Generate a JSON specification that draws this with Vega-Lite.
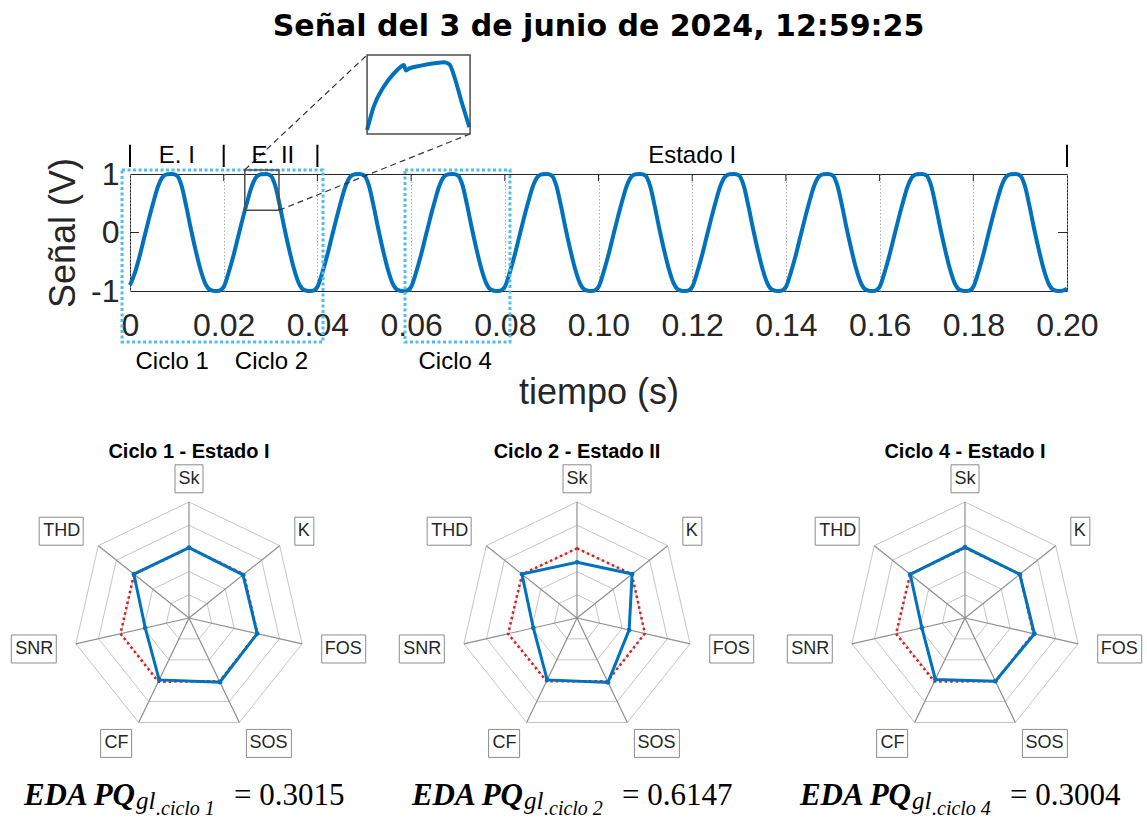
{
"$schema": "https://vega.github.io/schema/vega-lite/v6.json",
"background": "white",
"padding": {"left": 9, "top": 11, "right": 0, "bottom": 0},
"bounds": "flush",
"spacing": 268,
"datasets": {
"sig": [
{"t":0,"v":-0.9},{"t":0.001,"v":-0.7},{"t":0.002,"v":-0.42},{"t":0.003,"v":-0.1},{"t":0.004,"v":0.22},{"t":0.005,"v":0.52},{"t":0.006,"v":0.79},{"t":0.007,"v":0.95},{"t":0.008,"v":0.995},{"t":0.009,"v":1},{"t":0.01,"v":0.975},{"t":0.011,"v":0.8},{"t":0.012,"v":0.45},{"t":0.013,"v":0.06},{"t":0.014,"v":-0.3},{"t":0.015,"v":-0.62},{"t":0.016,"v":-0.86},{"t":0.017,"v":-0.975},{"t":0.018,"v":-1},{"t":0.019,"v":-0.995},
{"t":0.02,"v":-0.93},{"t":0.021,"v":-0.7},{"t":0.022,"v":-0.42},{"t":0.023,"v":-0.1},{"t":0.024,"v":0.22},{"t":0.025,"v":0.52},{"t":0.026,"v":0.79},{"t":0.027,"v":0.95},{"t":0.028,"v":0.995},{"t":0.029,"v":1},{"t":0.03,"v":0.975},{"t":0.031,"v":0.8},{"t":0.032,"v":0.45},{"t":0.033,"v":0.06},{"t":0.034,"v":-0.3},{"t":0.035,"v":-0.62},{"t":0.036,"v":-0.86},{"t":0.037,"v":-0.975},{"t":0.038,"v":-1},{"t":0.039,"v":-0.995},
{"t":0.04,"v":-0.93},{"t":0.041,"v":-0.7},{"t":0.042,"v":-0.42},{"t":0.043,"v":-0.1},{"t":0.044,"v":0.22},{"t":0.045,"v":0.52},{"t":0.046,"v":0.79},{"t":0.047,"v":0.95},{"t":0.048,"v":0.995},{"t":0.049,"v":1},{"t":0.05,"v":0.975},{"t":0.051,"v":0.8},{"t":0.052,"v":0.45},{"t":0.053,"v":0.06},{"t":0.054,"v":-0.3},{"t":0.055,"v":-0.62},{"t":0.056,"v":-0.86},{"t":0.057,"v":-0.975},{"t":0.058,"v":-1},{"t":0.059,"v":-0.995},
{"t":0.06,"v":-0.93},{"t":0.061,"v":-0.7},{"t":0.062,"v":-0.42},{"t":0.063,"v":-0.1},{"t":0.064,"v":0.22},{"t":0.065,"v":0.52},{"t":0.066,"v":0.79},{"t":0.067,"v":0.95},{"t":0.068,"v":0.995},{"t":0.069,"v":1},{"t":0.07,"v":0.975},{"t":0.071,"v":0.8},{"t":0.072,"v":0.45},{"t":0.073,"v":0.06},{"t":0.074,"v":-0.3},{"t":0.075,"v":-0.62},{"t":0.076,"v":-0.86},{"t":0.077,"v":-0.975},{"t":0.078,"v":-1},{"t":0.079,"v":-0.995},
{"t":0.08,"v":-0.93},{"t":0.081,"v":-0.7},{"t":0.082,"v":-0.42},{"t":0.083,"v":-0.1},{"t":0.084,"v":0.22},{"t":0.085,"v":0.52},{"t":0.086,"v":0.79},{"t":0.087,"v":0.95},{"t":0.088,"v":0.995},{"t":0.089,"v":1},{"t":0.09,"v":0.975},{"t":0.091,"v":0.8},{"t":0.092,"v":0.45},{"t":0.093,"v":0.06},{"t":0.094,"v":-0.3},{"t":0.095,"v":-0.62},{"t":0.096,"v":-0.86},{"t":0.097,"v":-0.975},{"t":0.098,"v":-1},{"t":0.099,"v":-0.995},
{"t":0.1,"v":-0.93},{"t":0.101,"v":-0.7},{"t":0.102,"v":-0.42},{"t":0.103,"v":-0.1},{"t":0.104,"v":0.22},{"t":0.105,"v":0.52},{"t":0.106,"v":0.79},{"t":0.107,"v":0.95},{"t":0.108,"v":0.995},{"t":0.109,"v":1},{"t":0.11,"v":0.975},{"t":0.111,"v":0.8},{"t":0.112,"v":0.45},{"t":0.113,"v":0.06},{"t":0.114,"v":-0.3},{"t":0.115,"v":-0.62},{"t":0.116,"v":-0.86},{"t":0.117,"v":-0.975},{"t":0.118,"v":-1},{"t":0.119,"v":-0.995},
{"t":0.12,"v":-0.93},{"t":0.121,"v":-0.7},{"t":0.122,"v":-0.42},{"t":0.123,"v":-0.1},{"t":0.124,"v":0.22},{"t":0.125,"v":0.52},{"t":0.126,"v":0.79},{"t":0.127,"v":0.95},{"t":0.128,"v":0.995},{"t":0.129,"v":1},{"t":0.13,"v":0.975},{"t":0.131,"v":0.8},{"t":0.132,"v":0.45},{"t":0.133,"v":0.06},{"t":0.134,"v":-0.3},{"t":0.135,"v":-0.62},{"t":0.136,"v":-0.86},{"t":0.137,"v":-0.975},{"t":0.138,"v":-1},{"t":0.139,"v":-0.995},
{"t":0.14,"v":-0.93},{"t":0.141,"v":-0.7},{"t":0.142,"v":-0.42},{"t":0.143,"v":-0.1},{"t":0.144,"v":0.22},{"t":0.145,"v":0.52},{"t":0.146,"v":0.79},{"t":0.147,"v":0.95},{"t":0.148,"v":0.995},{"t":0.149,"v":1},{"t":0.15,"v":0.975},{"t":0.151,"v":0.8},{"t":0.152,"v":0.45},{"t":0.153,"v":0.06},{"t":0.154,"v":-0.3},{"t":0.155,"v":-0.62},{"t":0.156,"v":-0.86},{"t":0.157,"v":-0.975},{"t":0.158,"v":-1},{"t":0.159,"v":-0.995},
{"t":0.16,"v":-0.93},{"t":0.161,"v":-0.7},{"t":0.162,"v":-0.42},{"t":0.163,"v":-0.1},{"t":0.164,"v":0.22},{"t":0.165,"v":0.52},{"t":0.166,"v":0.79},{"t":0.167,"v":0.95},{"t":0.168,"v":0.995},{"t":0.169,"v":1},{"t":0.17,"v":0.975},{"t":0.171,"v":0.8},{"t":0.172,"v":0.45},{"t":0.173,"v":0.06},{"t":0.174,"v":-0.3},{"t":0.175,"v":-0.62},{"t":0.176,"v":-0.86},{"t":0.177,"v":-0.975},{"t":0.178,"v":-1},{"t":0.179,"v":-0.995},
{"t":0.18,"v":-0.93},{"t":0.181,"v":-0.7},{"t":0.182,"v":-0.42},{"t":0.183,"v":-0.1},{"t":0.184,"v":0.22},{"t":0.185,"v":0.52},{"t":0.186,"v":0.79},{"t":0.187,"v":0.95},{"t":0.188,"v":0.995},{"t":0.189,"v":1},{"t":0.19,"v":0.975},{"t":0.191,"v":0.8},{"t":0.192,"v":0.45},{"t":0.193,"v":0.06},{"t":0.194,"v":-0.3},{"t":0.195,"v":-0.62},{"t":0.196,"v":-0.86},{"t":0.197,"v":-0.975},{"t":0.198,"v":-1},{"t":0.199,"v":-0.995},
{"t":0.2,"v":-0.96}
],
"inset": [
{"t":0.0245,"v":0.415},{"t":0.02497,"v":0.62},{"t":0.02568,"v":0.793},{"t":0.0264,"v":0.91},{"t":0.02686,"v":0.965},{"t":0.0271,"v":0.983},{"t":0.02726,"v":0.935},{"t":0.0275,"v":0.954},{"t":0.02833,"v":0.978},{"t":0.02927,"v":0.998},{"t":0.02998,"v":1.008},{"t":0.03033,"v":0.99},{"t":0.03069,"v":0.88},{"t":0.03116,"v":0.677},{"t":0.03175,"v":0.44}
],
"boxes": [{"t":-0.0017,"t2":0.0412,"v":-1.872,"v2":1.07},{"t":0.0587,"t2":0.0811,"v":-1.872,"v2":1.07}],
"zoombox": [{"t":0.0245,"t2":0.0318,"v":0.38,"v2":1.07}],
"links": [{"t":0.0245,"v":1.07,"t2":0.05059,"v2":3.034},{"t":0.0318,"v":0.38,"t2":0.07257,"v2":1.684}],
"bars": [{"t":0,"v":1.12,"v2":1.5},{"t":0.02,"v":1.12,"v2":1.5},{"t":0.04,"v":1.12,"v2":1.5},{"t":0.2,"v":1.12,"v2":1.5}],
"topticks": [{"t":0.02,"v":1,"v2":0.88},{"t":0.04,"v":1,"v2":0.88},{"t":0.06,"v":1,"v2":0.88},{"t":0.08,"v":1,"v2":0.88},{"t":0.1,"v":1,"v2":0.88},{"t":0.12,"v":1,"v2":0.88},{"t":0.14,"v":1,"v2":0.88},{"t":0.16,"v":1,"v2":0.88},{"t":0.18,"v":1,"v2":0.88}],
"yticks": [{"t":0,"t2":0.0019,"v":0},{"t":0.1981,"t2":0.2,"v":0}],
"states": [{"t":0.01,"v":1.188,"label":"E. I"},{"t":0.0305,"v":1.188,"label":"E. II"},{"t":0.12,"v":1.188,"label":"Estado I"}],
"cycles": [{"t":0.009,"v":-2.33,"label":"Ciclo 1"},{"t":0.0302,"v":-2.33,"label":"Ciclo 2"},{"t":0.0694,"v":-2.33,"label":"Ciclo 4"}],
"maintitle": [{"t":0.1,"v":3.359,"label":"Señal del 3 de junio de 2024, 12:59:25"}],
"axes": [{"axis":"Sk","idx":0},{"axis":"K","idx":1},{"axis":"FOS","idx":2},{"axis":"SOS","idx":3},{"axis":"CF","idx":4},{"axis":"SNR","idx":5},{"axis":"THD","idx":6}],
"rings": [
{"ring":0.2,"idx":0},{"ring":0.2,"idx":1},{"ring":0.2,"idx":2},{"ring":0.2,"idx":3},{"ring":0.2,"idx":4},{"ring":0.2,"idx":5},{"ring":0.2,"idx":6},
{"ring":0.4,"idx":0},{"ring":0.4,"idx":1},{"ring":0.4,"idx":2},{"ring":0.4,"idx":3},{"ring":0.4,"idx":4},{"ring":0.4,"idx":5},{"ring":0.4,"idx":6},
{"ring":0.6,"idx":0},{"ring":0.6,"idx":1},{"ring":0.6,"idx":2},{"ring":0.6,"idx":3},{"ring":0.6,"idx":4},{"ring":0.6,"idx":5},{"ring":0.6,"idx":6},
{"ring":0.8,"idx":0},{"ring":0.8,"idx":1},{"ring":0.8,"idx":2},{"ring":0.8,"idx":3},{"ring":0.8,"idx":4},{"ring":0.8,"idx":5},{"ring":0.8,"idx":6},
{"ring":1,"idx":0},{"ring":1,"idx":1},{"ring":1,"idx":2},{"ring":1,"idx":3},{"ring":1,"idx":4},{"ring":1,"idx":5},{"ring":1,"idx":6}
],
"radar": [
{"panel":1,"series":"medido","axis":"Sk","idx":0,"value":0.606},{"panel":1,"series":"medido","axis":"K","idx":1,"value":0.596},{"panel":1,"series":"medido","axis":"FOS","idx":2,"value":0.603},{"panel":1,"series":"medido","axis":"SOS","idx":3,"value":0.614},{"panel":1,"series":"medido","axis":"CF","idx":4,"value":0.592},{"panel":1,"series":"medido","axis":"SNR","idx":5,"value":0.387},{"panel":1,"series":"medido","axis":"THD","idx":6,"value":0.608},
{"panel":1,"series":"referencia","axis":"Sk","idx":0,"value":0.605},{"panel":1,"series":"referencia","axis":"K","idx":1,"value":0.605},{"panel":1,"series":"referencia","axis":"FOS","idx":2,"value":0.605},{"panel":1,"series":"referencia","axis":"SOS","idx":3,"value":0.605},{"panel":1,"series":"referencia","axis":"CF","idx":4,"value":0.61},{"panel":1,"series":"referencia","axis":"SNR","idx":5,"value":0.606},{"panel":1,"series":"referencia","axis":"THD","idx":6,"value":0.606},
{"panel":2,"series":"medido","axis":"Sk","idx":0,"value":0.48},{"panel":2,"series":"medido","axis":"K","idx":1,"value":0.608},{"panel":2,"series":"medido","axis":"FOS","idx":2,"value":0.461},{"panel":2,"series":"medido","axis":"SOS","idx":3,"value":0.616},{"panel":2,"series":"medido","axis":"CF","idx":4,"value":0.592},{"panel":2,"series":"medido","axis":"SNR","idx":5,"value":0.386},{"panel":2,"series":"medido","axis":"THD","idx":6,"value":0.607},
{"panel":2,"series":"referencia","axis":"Sk","idx":0,"value":0.6},{"panel":2,"series":"referencia","axis":"K","idx":1,"value":0.605},{"panel":2,"series":"referencia","axis":"FOS","idx":2,"value":0.6},{"panel":2,"series":"referencia","axis":"SOS","idx":3,"value":0.605},{"panel":2,"series":"referencia","axis":"CF","idx":4,"value":0.605},{"panel":2,"series":"referencia","axis":"SNR","idx":5,"value":0.61},{"panel":2,"series":"referencia","axis":"THD","idx":6,"value":0.605},
{"panel":3,"series":"medido","axis":"Sk","idx":0,"value":0.611},{"panel":3,"series":"medido","axis":"K","idx":1,"value":0.604},{"panel":3,"series":"medido","axis":"FOS","idx":2,"value":0.614},{"panel":3,"series":"medido","axis":"SOS","idx":3,"value":0.604},{"panel":3,"series":"medido","axis":"CF","idx":4,"value":0.588},{"panel":3,"series":"medido","axis":"SNR","idx":5,"value":0.381},{"panel":3,"series":"medido","axis":"THD","idx":6,"value":0.604},
{"panel":3,"series":"referencia","axis":"Sk","idx":0,"value":0.605},{"panel":3,"series":"referencia","axis":"K","idx":1,"value":0.605},{"panel":3,"series":"referencia","axis":"FOS","idx":2,"value":0.605},{"panel":3,"series":"referencia","axis":"SOS","idx":3,"value":0.605},{"panel":3,"series":"referencia","axis":"CF","idx":4,"value":0.608},{"panel":3,"series":"referencia","axis":"SNR","idx":5,"value":0.61},{"panel":3,"series":"referencia","axis":"THD","idx":6,"value":0.605}
],
"panels": [
{"panel":1,"heading":"Ciclo 1 - Estado I","eda":"EDA PQ","gl":"gl","sub":".ciclo 1","val":"= 0.3015"},
{"panel":2,"heading":"Ciclo 2 - Estado II","eda":"EDA PQ","gl":"gl","sub":".ciclo 2","val":"= 0.6147"},
{"panel":3,"heading":"Ciclo 4 - Estado I","eda":"EDA PQ","gl":"gl","sub":".ciclo 4","val":"= 0.3004"}
]
},
"vconcat": [
{
"width": 937, "height": 117,
"resolve": {"scale": {"x": "independent", "y": "independent"}},
"layer": [
{
"layer": [
{"data": {"name": "sig"},
 "mark": {"type": "line", "color": "#0072BD", "strokeWidth": 4, "interpolate": "monotone"},
 "encoding": {
  "x": {"field": "t", "type": "quantitative", "scale": {"domain": [0, 0.2], "nice": false, "zero": false},
   "axis": {"title": "tiempo (s)", "values": [0,0.02,0.04,0.06,0.08,0.1,0.12,0.14,0.16,0.18,0.2],
    "labelExpr": "datum.value == 0 ? '0' : format(datum.value, '.2f')",
    "grid": true, "gridDash": [1.5, 2], "gridColor": "#9a9a9a", "gridWidth": 0.8,
    "ticks": false, "domain": false, "labelFont": "Liberation Sans", "labelFontSize": 32, "labelColor": "#262626",
    "labelPadding": 19, "labelFlush": false, "labelOverlap": false,
    "titleFont": "Liberation Sans", "titleFontSize": 36, "titleFontWeight": "normal", "titleColor": "#262626", "titlePadding": 34}},
  "y": {"field": "v", "type": "quantitative", "scale": {"domain": [-1, 1], "nice": false, "zero": false},
   "axis": {"title": "Señal (V)", "values": [-1, 0, 1],
    "labelExpr": "datum.value == -1 ? '-1' : (datum.value == 0 ? '0' : '1')",
    "grid": false, "ticks": false, "domain": false,
    "labelFont": "Liberation Sans", "labelFontSize": 32, "labelColor": "#262626", "labelPadding": 11,
    "titleFont": "Liberation Sans", "titleFontSize": 36, "titleFontWeight": "normal", "titleColor": "#262626", "titlePadding": 8}}
 }},
{"data": {"name": "topticks"},
 "mark": {"type": "rule", "color": "#262626", "strokeWidth": 1},
 "encoding": {"x": {"field": "t", "type": "quantitative"}, "y": {"field": "v", "type": "quantitative"}, "y2": {"field": "v2"}}},
{"data": {"name": "yticks"},
 "mark": {"type": "rule", "color": "#262626", "strokeWidth": 1},
 "encoding": {"x": {"field": "t", "type": "quantitative"}, "x2": {"field": "t2"}, "y": {"field": "v", "type": "quantitative"}}},
{"data": {"name": "boxes"},
 "mark": {"type": "rect", "filled": false, "stroke": "#4DBEEE", "strokeWidth": 3, "strokeDash": [3, 2.5]},
 "encoding": {"x": {"field": "t", "type": "quantitative"}, "x2": {"field": "t2"}, "y": {"field": "v", "type": "quantitative"}, "y2": {"field": "v2"}}},
{"data": {"name": "zoombox"},
 "mark": {"type": "rect", "filled": false, "stroke": "#4d4d4d", "strokeWidth": 1.5},
 "encoding": {"x": {"field": "t", "type": "quantitative"}, "x2": {"field": "t2"}, "y": {"field": "v", "type": "quantitative"}, "y2": {"field": "v2"}}},
{"data": {"name": "links"},
 "mark": {"type": "rule", "color": "#333333", "strokeWidth": 1.2, "strokeDash": [6, 4]},
 "encoding": {"x": {"field": "t", "type": "quantitative"}, "x2": {"field": "t2"}, "y": {"field": "v", "type": "quantitative"}, "y2": {"field": "v2"}}},
{"data": {"name": "bars"},
 "mark": {"type": "rule", "color": "#000000", "strokeWidth": 2},
 "encoding": {"x": {"field": "t", "type": "quantitative"}, "y": {"field": "v", "type": "quantitative"}, "y2": {"field": "v2"}}},
{"data": {"name": "states"},
 "mark": {"type": "text", "align": "center", "baseline": "alphabetic", "fontSize": 24, "color": "#000000", "font": "Liberation Sans"},
 "encoding": {"x": {"field": "t", "type": "quantitative"}, "y": {"field": "v", "type": "quantitative"}, "text": {"field": "label"}}},
{"data": {"name": "cycles"},
 "mark": {"type": "text", "align": "center", "baseline": "alphabetic", "fontSize": 24, "color": "#000000", "font": "Liberation Sans"},
 "encoding": {"x": {"field": "t", "type": "quantitative"}, "y": {"field": "v", "type": "quantitative"}, "text": {"field": "label"}}},
{"data": {"name": "maintitle"},
 "mark": {"type": "text", "align": "center", "baseline": "alphabetic", "fontSize": 30, "fontWeight": "bold", "color": "#000000", "font": "DejaVu Sans"},
 "encoding": {"x": {"field": "t", "type": "quantitative"}, "y": {"field": "v", "type": "quantitative"}, "text": {"field": "label"}}}
]
},
{
"layer": [
{"data": {"name": "inset"},
 "mark": {"type": "line", "color": "#0072BD", "strokeWidth": 4, "interpolate": "monotone"},
 "encoding": {
  "x": {"field": "t", "type": "quantitative", "scale": {"domain": [0.0077, 0.0741], "nice": false, "zero": false}, "axis": null},
  "y": {"field": "v", "type": "quantitative", "scale": {"domain": [-0.991, 0.031], "nice": false, "zero": false}, "axis": null}}},
{"data": {"name": "zoombox"},
 "mark": {"type": "rect", "filled": false, "stroke": "#4d4d4d", "strokeWidth": 1.5},
 "encoding": {"x": {"field": "t", "type": "quantitative", "axis": null}, "x2": {"field": "t2"}, "y": {"field": "v", "type": "quantitative", "axis": null}, "y2": {"field": "v2"}}}
]
}
]
},
{
"hconcat": [
{
"width": 118, "height": 118, "view": {"stroke": null},
"encoding": {
 "x": {"field": "rx", "type": "quantitative", "scale": {"domain": [-0.5086, 0.5086], "nice": false, "zero": false}, "axis": null},
 "y": {"field": "ry", "type": "quantitative", "scale": {"domain": [-0.5086, 0.5086], "nice": false, "zero": false}, "axis": null}},
"layer": [
{"data": {"name": "rings"}, "transform": [{"calculate": "datum.ring*sin(datum.idx*2*PI/7)", "as": "rx"}, {"calculate": "datum.ring*cos(datum.idx*2*PI/7)", "as": "ry"}],
 "mark": {"type": "line", "interpolate": "linear-closed", "color": "#c6c6c6", "strokeWidth": 1}, "encoding": {"detail": {"field": "ring"}, "order": {"field": "idx"}}},
{"data": {"name": "axes"}, "transform": [{"calculate": "sin(datum.idx*2*PI/7)", "as": "rx"}, {"calculate": "cos(datum.idx*2*PI/7)", "as": "ry"}],
 "mark": {"type": "rule", "color": "#8f8f8f", "strokeWidth": 1.2}, "encoding": {"x": {"datum": 0}, "y": {"datum": 0}, "x2": {"field": "rx"}, "y2": {"field": "ry"}}},
{"data": {"name": "radar"}, "transform": [{"filter": "datum.panel == 1 && datum.series == 'referencia'"}, {"calculate": "datum.value*sin(datum.idx*2*PI/7)", "as": "rx"}, {"calculate": "datum.value*cos(datum.idx*2*PI/7)", "as": "ry"}],
 "mark": {"type": "line", "interpolate": "linear-closed", "color": "#d62020", "strokeWidth": 2.5, "strokeDash": [2.5, 3]}, "encoding": {"order": {"field": "idx"}}},
{"data": {"name": "radar"}, "transform": [{"filter": "datum.panel == 1 && datum.series == 'medido'"}, {"calculate": "datum.value*sin(datum.idx*2*PI/7)", "as": "rx"}, {"calculate": "datum.value*cos(datum.idx*2*PI/7)", "as": "ry"}],
 "mark": {"type": "line", "interpolate": "linear-closed", "color": "#0072BD", "strokeWidth": 3}, "encoding": {"order": {"field": "idx"}}},
{"data": {"name": "radar"}, "transform": [{"filter": "datum.panel == 1 && datum.series == 'medido'"}, {"calculate": "datum.value*sin(datum.idx*2*PI/7)", "as": "rx"}, {"calculate": "datum.value*cos(datum.idx*2*PI/7)", "as": "ry"}],
 "mark": {"type": "point", "filled": true, "color": "#0072BD", "size": 22, "opacity": 1}},
{"data": {"name": "axes"}, "transform": [{"calculate": "1.2*sin(datum.idx*2*PI/7)", "as": "rx"}, {"calculate": "1.2*cos(datum.idx*2*PI/7)", "as": "ry"}],
 "mark": {"type": "point", "filled": true, "fill": "white", "stroke": "#8c8c8c", "strokeWidth": 1, "size": 4, "opacity": 1},
 "encoding": {"shape": {"field": "axis", "type": "nominal", "legend": null, "scale": {"domain": ["Sk","K","FOS","SOS","CF","SNR","THD"], "range": ["M-14,-14H14V14H-14Z","M-3,-14H16V14H-3Z","M-3,-14H41V14H-3Z","M-3,-14H42V14H-3Z","M-28,-14H3V14H-28Z","M-42,-14H3V14H-42Z","M-41,-14H3V14H-41Z"]}}}},
{"data": {"name": "axes"}, "transform": [{"filter": "datum.idx == 0"}, {"calculate": "1.2*sin(datum.idx*2*PI/7)", "as": "rx"}, {"calculate": "1.2*cos(datum.idx*2*PI/7)", "as": "ry"}],
 "mark": {"type": "text", "align": "center", "baseline": "middle", "fontSize": 18, "color": "#262626"}, "encoding": {"text": {"field": "axis"}}},
{"data": {"name": "axes"}, "transform": [{"filter": "datum.idx >= 1 && datum.idx <= 3"}, {"calculate": "1.2*sin(datum.idx*2*PI/7)", "as": "rx"}, {"calculate": "1.2*cos(datum.idx*2*PI/7)", "as": "ry"}],
 "mark": {"type": "text", "align": "left", "baseline": "middle", "fontSize": 18, "color": "#262626"}, "encoding": {"text": {"field": "axis"}}},
{"data": {"name": "axes"}, "transform": [{"filter": "datum.idx >= 4"}, {"calculate": "1.2*sin(datum.idx*2*PI/7)", "as": "rx"}, {"calculate": "1.2*cos(datum.idx*2*PI/7)", "as": "ry"}],
 "mark": {"type": "text", "align": "right", "baseline": "middle", "fontSize": 18, "color": "#262626"}, "encoding": {"text": {"field": "axis"}}},
{"data": {"name": "panels"}, "transform": [{"filter": "datum.panel == 1"}, {"calculate": "0", "as": "rx"}, {"calculate": "1.379", "as": "ry"}],
 "mark": {"type": "text", "align": "center", "baseline": "alphabetic", "fontSize": 20, "fontWeight": "bold", "color": "#000000"},
 "encoding": {"text": {"field": "heading"}}},
{"data": {"name": "panels"}, "transform": [{"filter": "datum.panel == 1"}, {"calculate": "0", "as": "rx"}, {"calculate": "-1.612", "as": "ry"}],
 "layer": [
  {"mark": {"type": "text", "align": "right", "baseline": "alphabetic", "font": "Liberation Serif", "fontSize": 31, "fontStyle": "italic", "fontWeight": "bold", "dx": -54, "color": "#000000"}, "encoding": {"text": {"field": "eda"}}},
  {"mark": {"type": "text", "align": "left", "baseline": "alphabetic", "font": "Liberation Serif", "fontSize": 25, "fontStyle": "italic", "dx": -53, "dy": 4, "color": "#000000"}, "encoding": {"text": {"field": "gl"}}},
  {"mark": {"type": "text", "align": "left", "baseline": "alphabetic", "font": "Liberation Serif", "fontSize": 20, "fontStyle": "italic", "dx": -33, "dy": 10, "color": "#000000"}, "encoding": {"text": {"field": "sub"}}},
  {"mark": {"type": "text", "align": "left", "baseline": "alphabetic", "font": "Liberation Serif", "fontSize": 31, "dx": 45, "color": "#000000"}, "encoding": {"text": {"field": "val"}}}
 ]}
]
},
{
"width": 118, "height": 118, "view": {"stroke": null},
"encoding": {
 "x": {"field": "rx", "type": "quantitative", "scale": {"domain": [-0.5086, 0.5086], "nice": false, "zero": false}, "axis": null},
 "y": {"field": "ry", "type": "quantitative", "scale": {"domain": [-0.5086, 0.5086], "nice": false, "zero": false}, "axis": null}},
"layer": [
{"data": {"name": "rings"}, "transform": [{"calculate": "datum.ring*sin(datum.idx*2*PI/7)", "as": "rx"}, {"calculate": "datum.ring*cos(datum.idx*2*PI/7)", "as": "ry"}],
 "mark": {"type": "line", "interpolate": "linear-closed", "color": "#c6c6c6", "strokeWidth": 1}, "encoding": {"detail": {"field": "ring"}, "order": {"field": "idx"}}},
{"data": {"name": "axes"}, "transform": [{"calculate": "sin(datum.idx*2*PI/7)", "as": "rx"}, {"calculate": "cos(datum.idx*2*PI/7)", "as": "ry"}],
 "mark": {"type": "rule", "color": "#8f8f8f", "strokeWidth": 1.2}, "encoding": {"x": {"datum": 0}, "y": {"datum": 0}, "x2": {"field": "rx"}, "y2": {"field": "ry"}}},
{"data": {"name": "radar"}, "transform": [{"filter": "datum.panel == 2 && datum.series == 'referencia'"}, {"calculate": "datum.value*sin(datum.idx*2*PI/7)", "as": "rx"}, {"calculate": "datum.value*cos(datum.idx*2*PI/7)", "as": "ry"}],
 "mark": {"type": "line", "interpolate": "linear-closed", "color": "#d62020", "strokeWidth": 2.5, "strokeDash": [2.5, 3]}, "encoding": {"order": {"field": "idx"}}},
{"data": {"name": "radar"}, "transform": [{"filter": "datum.panel == 2 && datum.series == 'medido'"}, {"calculate": "datum.value*sin(datum.idx*2*PI/7)", "as": "rx"}, {"calculate": "datum.value*cos(datum.idx*2*PI/7)", "as": "ry"}],
 "mark": {"type": "line", "interpolate": "linear-closed", "color": "#0072BD", "strokeWidth": 3}, "encoding": {"order": {"field": "idx"}}},
{"data": {"name": "radar"}, "transform": [{"filter": "datum.panel == 2 && datum.series == 'medido'"}, {"calculate": "datum.value*sin(datum.idx*2*PI/7)", "as": "rx"}, {"calculate": "datum.value*cos(datum.idx*2*PI/7)", "as": "ry"}],
 "mark": {"type": "point", "filled": true, "color": "#0072BD", "size": 22, "opacity": 1}},
{"data": {"name": "axes"}, "transform": [{"calculate": "1.2*sin(datum.idx*2*PI/7)", "as": "rx"}, {"calculate": "1.2*cos(datum.idx*2*PI/7)", "as": "ry"}],
 "mark": {"type": "point", "filled": true, "fill": "white", "stroke": "#8c8c8c", "strokeWidth": 1, "size": 4, "opacity": 1},
 "encoding": {"shape": {"field": "axis", "type": "nominal", "legend": null, "scale": {"domain": ["Sk","K","FOS","SOS","CF","SNR","THD"], "range": ["M-14,-14H14V14H-14Z","M-3,-14H16V14H-3Z","M-3,-14H41V14H-3Z","M-3,-14H42V14H-3Z","M-28,-14H3V14H-28Z","M-42,-14H3V14H-42Z","M-41,-14H3V14H-41Z"]}}}},
{"data": {"name": "axes"}, "transform": [{"filter": "datum.idx == 0"}, {"calculate": "1.2*sin(datum.idx*2*PI/7)", "as": "rx"}, {"calculate": "1.2*cos(datum.idx*2*PI/7)", "as": "ry"}],
 "mark": {"type": "text", "align": "center", "baseline": "middle", "fontSize": 18, "color": "#262626"}, "encoding": {"text": {"field": "axis"}}},
{"data": {"name": "axes"}, "transform": [{"filter": "datum.idx >= 1 && datum.idx <= 3"}, {"calculate": "1.2*sin(datum.idx*2*PI/7)", "as": "rx"}, {"calculate": "1.2*cos(datum.idx*2*PI/7)", "as": "ry"}],
 "mark": {"type": "text", "align": "left", "baseline": "middle", "fontSize": 18, "color": "#262626"}, "encoding": {"text": {"field": "axis"}}},
{"data": {"name": "axes"}, "transform": [{"filter": "datum.idx >= 4"}, {"calculate": "1.2*sin(datum.idx*2*PI/7)", "as": "rx"}, {"calculate": "1.2*cos(datum.idx*2*PI/7)", "as": "ry"}],
 "mark": {"type": "text", "align": "right", "baseline": "middle", "fontSize": 18, "color": "#262626"}, "encoding": {"text": {"field": "axis"}}},
{"data": {"name": "panels"}, "transform": [{"filter": "datum.panel == 2"}, {"calculate": "0", "as": "rx"}, {"calculate": "1.379", "as": "ry"}],
 "mark": {"type": "text", "align": "center", "baseline": "alphabetic", "fontSize": 20, "fontWeight": "bold", "color": "#000000"},
 "encoding": {"text": {"field": "heading"}}},
{"data": {"name": "panels"}, "transform": [{"filter": "datum.panel == 2"}, {"calculate": "0", "as": "rx"}, {"calculate": "-1.612", "as": "ry"}],
 "layer": [
  {"mark": {"type": "text", "align": "right", "baseline": "alphabetic", "font": "Liberation Serif", "fontSize": 31, "fontStyle": "italic", "fontWeight": "bold", "dx": -54, "color": "#000000"}, "encoding": {"text": {"field": "eda"}}},
  {"mark": {"type": "text", "align": "left", "baseline": "alphabetic", "font": "Liberation Serif", "fontSize": 25, "fontStyle": "italic", "dx": -53, "dy": 4, "color": "#000000"}, "encoding": {"text": {"field": "gl"}}},
  {"mark": {"type": "text", "align": "left", "baseline": "alphabetic", "font": "Liberation Serif", "fontSize": 20, "fontStyle": "italic", "dx": -33, "dy": 10, "color": "#000000"}, "encoding": {"text": {"field": "sub"}}},
  {"mark": {"type": "text", "align": "left", "baseline": "alphabetic", "font": "Liberation Serif", "fontSize": 31, "dx": 45, "color": "#000000"}, "encoding": {"text": {"field": "val"}}}
 ]}
]
},
{
"width": 118, "height": 118, "view": {"stroke": null},
"encoding": {
 "x": {"field": "rx", "type": "quantitative", "scale": {"domain": [-0.5086, 0.5086], "nice": false, "zero": false}, "axis": null},
 "y": {"field": "ry", "type": "quantitative", "scale": {"domain": [-0.5086, 0.5086], "nice": false, "zero": false}, "axis": null}},
"layer": [
{"data": {"name": "rings"}, "transform": [{"calculate": "datum.ring*sin(datum.idx*2*PI/7)", "as": "rx"}, {"calculate": "datum.ring*cos(datum.idx*2*PI/7)", "as": "ry"}],
 "mark": {"type": "line", "interpolate": "linear-closed", "color": "#c6c6c6", "strokeWidth": 1}, "encoding": {"detail": {"field": "ring"}, "order": {"field": "idx"}}},
{"data": {"name": "axes"}, "transform": [{"calculate": "sin(datum.idx*2*PI/7)", "as": "rx"}, {"calculate": "cos(datum.idx*2*PI/7)", "as": "ry"}],
 "mark": {"type": "rule", "color": "#8f8f8f", "strokeWidth": 1.2}, "encoding": {"x": {"datum": 0}, "y": {"datum": 0}, "x2": {"field": "rx"}, "y2": {"field": "ry"}}},
{"data": {"name": "radar"}, "transform": [{"filter": "datum.panel == 3 && datum.series == 'referencia'"}, {"calculate": "datum.value*sin(datum.idx*2*PI/7)", "as": "rx"}, {"calculate": "datum.value*cos(datum.idx*2*PI/7)", "as": "ry"}],
 "mark": {"type": "line", "interpolate": "linear-closed", "color": "#d62020", "strokeWidth": 2.5, "strokeDash": [2.5, 3]}, "encoding": {"order": {"field": "idx"}}},
{"data": {"name": "radar"}, "transform": [{"filter": "datum.panel == 3 && datum.series == 'medido'"}, {"calculate": "datum.value*sin(datum.idx*2*PI/7)", "as": "rx"}, {"calculate": "datum.value*cos(datum.idx*2*PI/7)", "as": "ry"}],
 "mark": {"type": "line", "interpolate": "linear-closed", "color": "#0072BD", "strokeWidth": 3}, "encoding": {"order": {"field": "idx"}}},
{"data": {"name": "radar"}, "transform": [{"filter": "datum.panel == 3 && datum.series == 'medido'"}, {"calculate": "datum.value*sin(datum.idx*2*PI/7)", "as": "rx"}, {"calculate": "datum.value*cos(datum.idx*2*PI/7)", "as": "ry"}],
 "mark": {"type": "point", "filled": true, "color": "#0072BD", "size": 22, "opacity": 1}},
{"data": {"name": "axes"}, "transform": [{"calculate": "1.2*sin(datum.idx*2*PI/7)", "as": "rx"}, {"calculate": "1.2*cos(datum.idx*2*PI/7)", "as": "ry"}],
 "mark": {"type": "point", "filled": true, "fill": "white", "stroke": "#8c8c8c", "strokeWidth": 1, "size": 4, "opacity": 1},
 "encoding": {"shape": {"field": "axis", "type": "nominal", "legend": null, "scale": {"domain": ["Sk","K","FOS","SOS","CF","SNR","THD"], "range": ["M-14,-14H14V14H-14Z","M-3,-14H16V14H-3Z","M-3,-14H41V14H-3Z","M-3,-14H42V14H-3Z","M-28,-14H3V14H-28Z","M-42,-14H3V14H-42Z","M-41,-14H3V14H-41Z"]}}}},
{"data": {"name": "axes"}, "transform": [{"filter": "datum.idx == 0"}, {"calculate": "1.2*sin(datum.idx*2*PI/7)", "as": "rx"}, {"calculate": "1.2*cos(datum.idx*2*PI/7)", "as": "ry"}],
 "mark": {"type": "text", "align": "center", "baseline": "middle", "fontSize": 18, "color": "#262626"}, "encoding": {"text": {"field": "axis"}}},
{"data": {"name": "axes"}, "transform": [{"filter": "datum.idx >= 1 && datum.idx <= 3"}, {"calculate": "1.2*sin(datum.idx*2*PI/7)", "as": "rx"}, {"calculate": "1.2*cos(datum.idx*2*PI/7)", "as": "ry"}],
 "mark": {"type": "text", "align": "left", "baseline": "middle", "fontSize": 18, "color": "#262626"}, "encoding": {"text": {"field": "axis"}}},
{"data": {"name": "axes"}, "transform": [{"filter": "datum.idx >= 4"}, {"calculate": "1.2*sin(datum.idx*2*PI/7)", "as": "rx"}, {"calculate": "1.2*cos(datum.idx*2*PI/7)", "as": "ry"}],
 "mark": {"type": "text", "align": "right", "baseline": "middle", "fontSize": 18, "color": "#262626"}, "encoding": {"text": {"field": "axis"}}},
{"data": {"name": "panels"}, "transform": [{"filter": "datum.panel == 3"}, {"calculate": "0", "as": "rx"}, {"calculate": "1.379", "as": "ry"}],
 "mark": {"type": "text", "align": "center", "baseline": "alphabetic", "fontSize": 20, "fontWeight": "bold", "color": "#000000"},
 "encoding": {"text": {"field": "heading"}}},
{"data": {"name": "panels"}, "transform": [{"filter": "datum.panel == 3"}, {"calculate": "0", "as": "rx"}, {"calculate": "-1.612", "as": "ry"}],
 "layer": [
  {"mark": {"type": "text", "align": "right", "baseline": "alphabetic", "font": "Liberation Serif", "fontSize": 31, "fontStyle": "italic", "fontWeight": "bold", "dx": -54, "color": "#000000"}, "encoding": {"text": {"field": "eda"}}},
  {"mark": {"type": "text", "align": "left", "baseline": "alphabetic", "font": "Liberation Serif", "fontSize": 25, "fontStyle": "italic", "dx": -53, "dy": 4, "color": "#000000"}, "encoding": {"text": {"field": "gl"}}},
  {"mark": {"type": "text", "align": "left", "baseline": "alphabetic", "font": "Liberation Serif", "fontSize": 20, "fontStyle": "italic", "dx": -33, "dy": 10, "color": "#000000"}, "encoding": {"text": {"field": "sub"}}},
  {"mark": {"type": "text", "align": "left", "baseline": "alphabetic", "font": "Liberation Serif", "fontSize": 31, "dx": 45, "color": "#000000"}, "encoding": {"text": {"field": "val"}}}
 ]}
]
}
],
"spacing": 270,
"bounds": "flush"
}
],
"config": {
 "view": {"stroke": "#262626", "strokeWidth": 1},
 "text": {"font": "Liberation Sans"}
}
}
